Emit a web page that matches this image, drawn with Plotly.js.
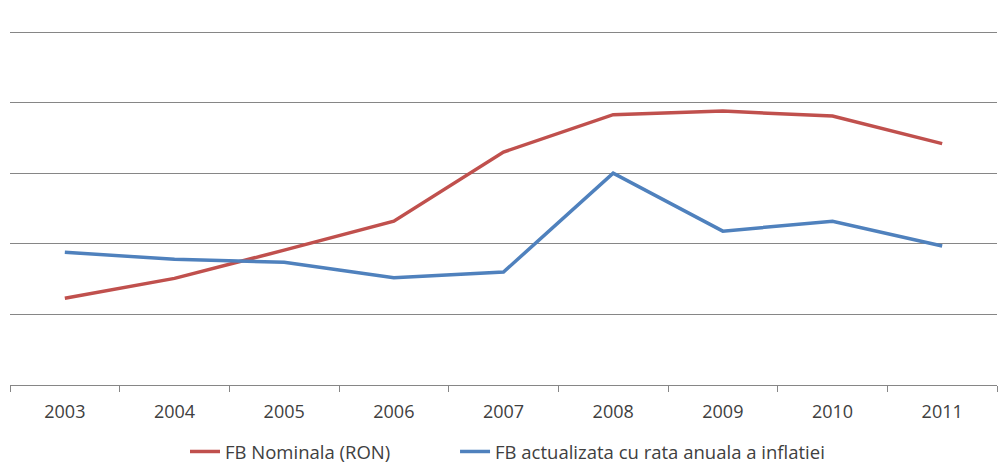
<!DOCTYPE html>
<html>
<head>
<meta charset="utf-8">
<script src="https://cdn.plot.ly/plotly-3.0.1.min.js"></script>
<style>html,body{margin:0;padding:0;background:#fff;}#chart{width:1003px;height:465px;}</style>
</head>
<body>
<div id="chart"></div>
<script>
var years = ["2003","2004","2005","2006","2007","2008","2009","2010","2011"];
var fbNominala = [1.23, 1.51, 1.91, 2.32, 3.30, 3.83, 3.88, 3.81, 3.42];
var fbActualizata = [1.88, 1.78, 1.74, 1.52, 1.60, 3.00, 2.18, 2.32, 1.97];
var seriesNames = ["FB Nominala (RON)", "FB actualizata cu rata anuala a inflatiei"];

var traces = [
  {x: years, y: fbNominala, name: seriesNames[0], type: "scatter", mode: "lines",
   legend: "legend", line: {color: "#C0504D", width: 3.5}},
  {x: years, y: fbActualizata, name: seriesNames[1], type: "scatter", mode: "lines",
   legend: "legend2", line: {color: "#4F81BD", width: 3.5}}
];

var legendFont = {size: 18.5, color: "#404040", family: "Open Sans, sans-serif"};

var layout = {
  width: 1003, height: 465,
  margin: {l: 10, r: 6, t: 25, b: 80, pad: 0, autoexpand: false},
  paper_bgcolor: "#fff", plot_bgcolor: "#fff",
  font: {family: "Open Sans, sans-serif", size: 18, color: "#404040"},
  showlegend: true,
  legend: {orientation: "h", x: 0.1773, xanchor: "left", y: -0.186, yanchor: "middle",
           bgcolor: "rgba(0,0,0,0)", font: legendFont},
  legend2: {orientation: "h", x: 0.4509, xanchor: "left", y: -0.186, yanchor: "middle",
            bgcolor: "rgba(0,0,0,0)", font: legendFont},
  xaxis: {type: "category", range: [-0.5, 8.5], showline: true, linecolor: "#868686", linewidth: 1,
          ticks: "outside", tickson: "boundaries", ticklen: 6, tickcolor: "#868686",
          ticklabelstandoff: 10,
          showgrid: false, zeroline: false, fixedrange: true},
  yaxis: {range: [0, 5.1], dtick: 1, tick0: 0, showgrid: true, gridcolor: "#868686", gridwidth: 1,
          showticklabels: false, zeroline: false, showline: false, fixedrange: true}
};

Plotly.newPlot("chart", traces, layout, {displayModeBar: false, staticPlot: true});
</script>
</body>
</html>
